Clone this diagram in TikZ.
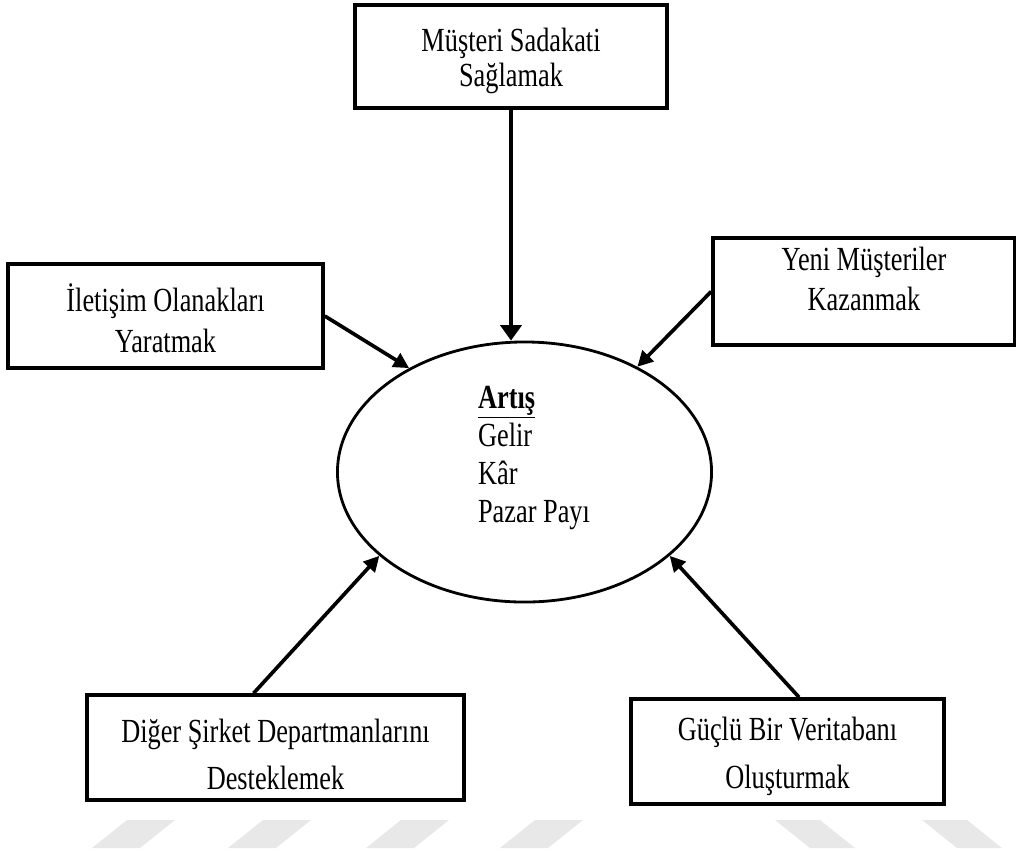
\documentclass[tikz,border=0pt]{standalone}
\usepackage{fontspec}
\setmainfont{Liberation Serif}[FakeStretch=0.78]
\usepackage{tikz}
\usetikzlibrary{shapes.geometric}
\usetikzlibrary{arrows.meta}
\usetikzlibrary{positioning}

\begin{document}
\begin{tikzpicture}[x=0.025cm,y=-0.025cm,
		kasten/.style={draw,line width=2.5pt,align=center,inner sep=0pt,font=\fontsize{24}{28.5}\selectfont},
		pfeil/.style={line width=2.6pt,-{Triangle[length=11pt,width=11pt]}},
		marke/.style={fill=black!9,draw=none}]
		\useasboundingbox (0,0) rectangle (1016,851);
		% Wasserzeichen
		\foreach \x in {92,228,366,500}
			\fill[marke] (\x,848) -- (\x+48,848) -- (\x+83,820) -- (\x+35,820) -- cycle;
		\foreach \x in {775,922}
			\fill[marke] (\x,820) -- (\x+45,820) -- (\x+80,848) -- (\x+35,848) -- cycle;
		% Mitte
		\node[draw,ellipse,line width=2pt,minimum width=9.35cm,minimum height=6.5cm,inner sep=0pt] (artis) at (524.5,472) {};
		\node[align=left,font=\fontsize{24}{27}\selectfont] (liste) at (534,458) {\underline{\textbf{Artış}}\\Gelir\\Kâr\\Pazar Payı};
		% Kästen
		\node[kasten,minimum width=7.8cm,minimum height=2.575cm] (sadakat) at (511,56.5) {\rule{0pt}{23pt}Müşteri Sadakati\\[-3pt]Sağlamak};
		\node[kasten,minimum width=7.875cm,minimum height=2.6cm] (iletisim) at (165.5,316) {\rule{0pt}{23pt}İletişim Olanakları\\Yaratmak};
		\node[kasten,minimum width=7.55cm,minimum height=2.675cm] (yeni) at (864,291.5) {Yeni Müşteriler\\\rule[-18pt]{0pt}{0pt}Kazanmak};
		\node[kasten,minimum width=9.425cm,minimum height=2.625cm] (diger) at (275.5,747.5) {\rule{0pt}{26.5pt}Diğer Şirket Departmanlarını\\[5.5pt]Desteklemek};
		\node[kasten,minimum width=7.825cm,minimum height=2.625cm] (veri) at (787.5,751.5) {\rule{0pt}{24pt}Güçlü Bir Veritabanı\\[5.5pt]Oluşturmak};
		% Pfeile
		\draw[pfeil,-{Triangle[length=11pt,width=15pt]}] (sadakat.south) -- (sadakat.south |- artis.north);
		\draw[pfeil] (iletisim.east) -- (artis.138);
		\draw[pfeil] (yeni.west) -- (artis.43);
		\draw[pfeil] (diger.112) -- (artis.210);
		\draw[pfeil] (veri.78) -- (artis.330);
\end{tikzpicture}
\end{document}
